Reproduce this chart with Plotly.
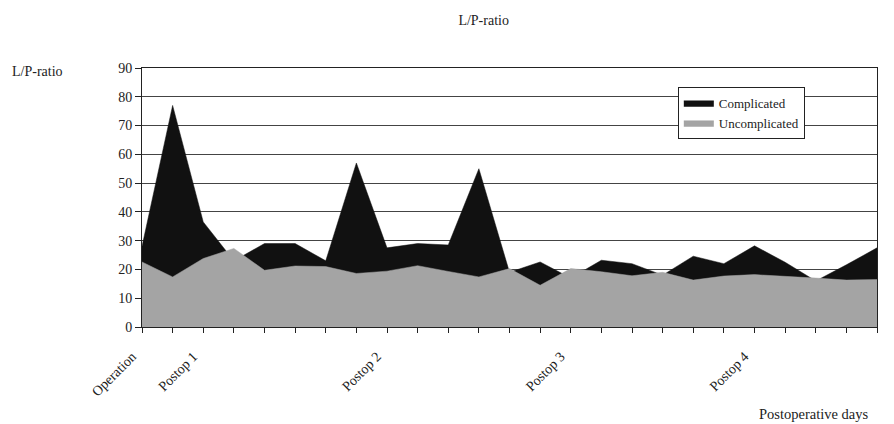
import plotly.graph_objects as go

# time points (index along the postoperative timeline)
time_points = list(range(25))
tick_positions = [0, 2, 8, 14, 20]
tick_names = ["Operation", "Postop 1", "Postop 2", "Postop 3", "Postop 4"]

complicated = [28, 77, 36.5, 23, 29, 29, 23, 57, 27.5, 29, 28.5, 55, 19, 22.6, 17,
               23.2, 22, 18, 24.6, 22, 28.2, 22.5, 16, 21.6, 27.5]
uncomplicated = [22.6, 17.4, 23.8, 27.3, 19.7, 21.2, 21, 18.6, 19.4, 21.3, 19.3, 17.4, 20.3, 14.5, 20.3,
                 19.2, 17.8, 19, 16.3, 17.7, 18.2, 17.7, 17, 16.3, 16.5]

FONT = "Liberation Serif, Times New Roman, serif"

fig = go.Figure()
fig.add_trace(go.Scatter(
    x=time_points, y=complicated, name="Complicated", mode="lines",
    fill="tozeroy", fillcolor="#111111", line=dict(color="#111111", width=0.5),
))
fig.add_trace(go.Scatter(
    x=time_points, y=uncomplicated, name="Uncomplicated", mode="lines",
    fill="tozeroy", fillcolor="#a4a4a4", line=dict(color="#a4a4a4", width=0.5),
))

pad = "\u00a0" * 4
all_ticks = time_points
all_text = [tick_names[tick_positions.index(t)] + pad if t in tick_positions else "" for t in all_ticks]

fig.update_layout(
    width=894, height=424,
    margin=dict(l=142, r=17, t=68, b=97),
    paper_bgcolor="white", plot_bgcolor="white",
    font=dict(family=FONT, size=14, color="#222"),
    title=dict(text="L/P-ratio", x=0.541, y=0.953, xanchor="center", yanchor="middle",
               font=dict(family=FONT, size=14, color="#222")),
    legend=dict(x=0.729, y=0.927, xanchor="left", yanchor="top",
                bordercolor="#222", borderwidth=1, bgcolor="white",
                font=dict(family=FONT, size=13), tracegroupgap=0,
                itemwidth=30),
    showlegend=True,
)
fig.update_xaxes(
    range=[0, 24], tickmode="array", tickvals=all_ticks, ticktext=all_text,
    tickangle=-45, ticks="outside", ticklen=5, tickcolor="#222",
    ticklabelstandoff=0,
    showline=True, linecolor="#222", linewidth=1, mirror=True,
    showgrid=False, zeroline=False,
    tickfont=dict(family=FONT, size=14),
)
fig.update_yaxes(
    range=[0, 90], tickmode="linear", tick0=0, dtick=10,
    ticks="outside", ticklen=6, tickcolor="#222",
    showline=True, linecolor="#222", linewidth=1, mirror=True,
    showgrid=True, gridcolor="#444", gridwidth=1, zeroline=False,
    tickfont=dict(family=FONT, size=14),
)
fig.add_annotation(text="L/P-ratio", xref="paper", yref="paper",
                   x=-0.18, y=0.985, xanchor="left", yanchor="middle",
                   showarrow=False, font=dict(family=FONT, size=14))
fig.add_annotation(text="Postoperative days", xref="paper", yref="paper",
                   x=0.99, y=-0.336, xanchor="right", yanchor="middle",
                   showarrow=False, font=dict(family=FONT, size=14.5))

fig.write_html("out.html", post_script="document.body.style.margin='0';",
               config={"displayModeBar": False})
